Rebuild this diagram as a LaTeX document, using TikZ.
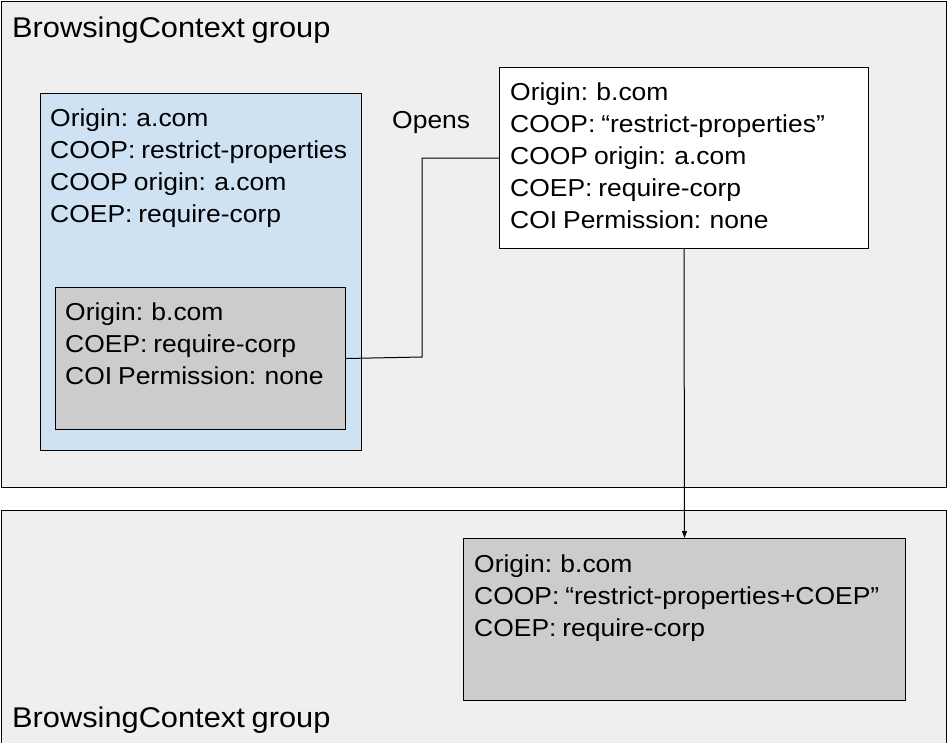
\documentclass[tikz,border=0pt]{standalone}
\usepackage{fontspec}
\setmainfont[FakeStretch=1.08, WordSpace=0.8]{Liberation Sans}
\usetikzlibrary{arrows.meta}
\definecolor{groupbg}{HTML}{EFEFEF}
\definecolor{bluebg}{HTML}{CFE2F3}
\definecolor{graybg}{HTML}{CCCCCC}
\begin{document}
\begin{tikzpicture}[x=1pt,y=-1pt,
  groupbox/.style={draw=black, fill=groupbg, line width=1pt},
  box/.style={draw=black, line width=1pt, inner sep=0pt, anchor=north west},
  info/.style={anchor=north west, inner sep=0pt, align=left, font=\fontsize{24.5}{32}\selectfont},
  title/.style={anchor=base west, inner sep=0pt, font=\fontsize{28.5}{32}\selectfont},
  conn/.style={draw=black, line width=1pt}]
\useasboundingbox (0,0) rectangle (947,742);
% groups
\draw[groupbox] (1,1) rectangle (946,487);
\draw[groupbox] (1,510) rectangle (946,750);
\node[title] (t1) at (12,37) {BrowsingContext group};
\node[title] (t2) at (12,727) {BrowsingContext group};
% blue box
\node[box, fill=bluebg, minimum width=321pt, minimum height=357pt] (blue) at (40,93) {};
\node[info] (bluetxt) at (50,109) {Origin: a.com\\COOP: restrict-properties\\COOP origin: a.com\\COEP: require-corp};
% inner gray box
\node[box, fill=graybg, minimum width=290pt, minimum height=142pt] (gin) at (55,287) {};
\node[info] (gintxt) at (65,303) {Origin: b.com\\COEP: require-corp\\COI Permission: none};
% white box
\node[box, fill=white, minimum width=369pt, minimum height=181pt] (w) at (499,67) {};
\node[info] (wtxt) at (510,83) {Origin: b.com\\COOP: “restrict-properties”\\COOP origin: a.com\\COEP: require-corp\\COI Permission: none};
% Opens label
\node[anchor=base west, inner sep=0pt, font=\fontsize{24.5}{32}\selectfont] (opens) at (392,128) {Opens};
% bottom gray box
\node[box, fill=graybg, minimum width=442pt, minimum height=162pt] (bg) at (463,538) {};
\node[info] (bgtxt) at (474,555) {Origin: b.com\\COOP: “restrict-properties+COEP”\\COEP: require-corp};
% connectors
\coordinate (bend) at (422,357);
\draw[conn] (gin.east) -- (bend) |- (w.west);
\draw[conn, -{Triangle[length=7pt,width=5pt]}] (w.south) -- (bg.north);
\end{tikzpicture}
\end{document}
